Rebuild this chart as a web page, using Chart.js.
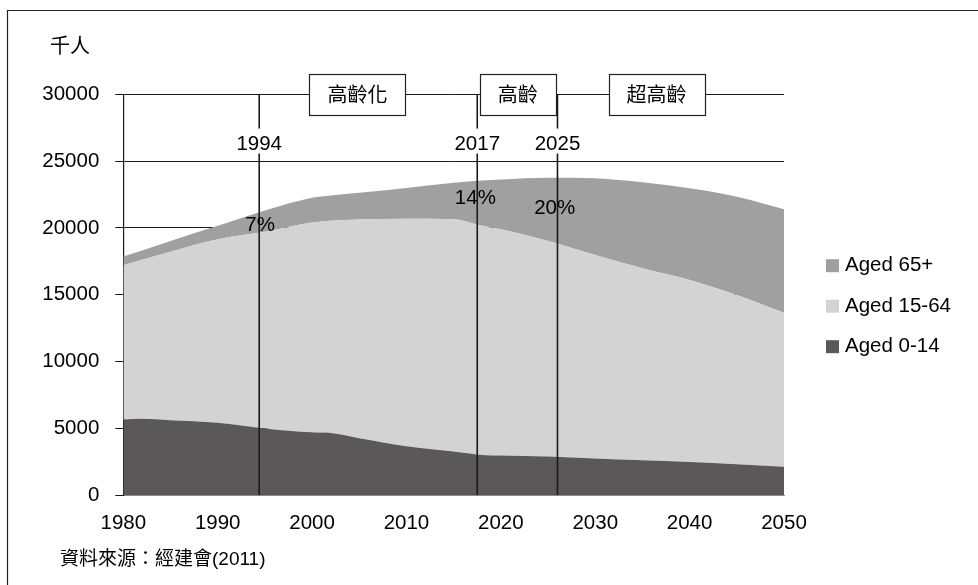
<!DOCTYPE html>
<html>
<head>
<meta charset="utf-8">
<script src="https://cdn.jsdelivr.net/npm/chart.js@4.4.1/dist/chart.umd.min.js"></script>
<style>
  html, body { margin: 0; padding: 0; background: #ffffff; }
  #wrap { position: relative; width: 978px; height: 585px; }
</style>
</head>
<body>
<div id="wrap"><canvas id="c"></canvas></div>
<script>
// ---- data ----
const years = [1980, 1982, 1985, 1990, 1995, 2000, 2002, 2005, 2010, 2015, 2018, 2020, 2025, 2030, 2035, 2040, 2045, 2050];
const aged0_14 = [5650, 5700, 5600, 5410, 4980, 4690, 4640, 4250, 3650, 3250, 3000, 2960, 2880, 2740, 2600, 2470, 2300, 2120];
const aged15_64 = [11550, 11920, 12620, 13740, 14720, 15710, 15900, 16370, 17030, 17390, 17150, 16930, 16140, 15230, 14370, 13630, 12670, 11530];
const aged65 = [650, 680, 800, 1000, 1600, 1850, 1890, 2000, 2300, 2740, 3400, 3740, 4740, 5740, 6440, 6860, 7360, 7740];
const seriesNames = ['Aged 0-14', 'Aged 15-64', 'Aged 65+'];
const xTickLabels = ['1980', '1990', '2000', '2010', '2020', '2030', '2040', '2050'];
const yTickLabels = ['0', '5000', '10000', '15000', '20000', '25000', '30000'];
const markerYears = [1994.4, 2017.5, 2026];
const markerLabels = ['1994', '2017', '2025'];
const pctLabels = ['7%', '14%', '20%'];
const pctX = [1994.5, 2017.3, 2025.7];
const pctY = [20200, 22230, 21480];
const phaseLabels = ['高齡化', '高齡', '超高齡'];
const phaseX = [2004.8, 2021.8, 2036.5];
const unitLabel = '千人';
const sourceLabel = '資料來源：經建會(2011)';

// ---- styles ----
const colors = ['#5a5858', '#d3d3d3', '#a0a0a0'];
const LATIN = '20.5px "Liberation Sans", Arial, sans-serif';
const CJK = '20px "Noto Sans CJK TC", "Noto Sans CJK SC", sans-serif';
const SRC = '19px "Liberation Sans", "Noto Sans CJK TC", sans-serif';

function pts(arr) { return years.map((y, i) => ({x: y, y: arr[i]})); }

const lineSets = markerYears.map((yr, i) => ({
  label: 'marker' + i,
  data: [{x: yr, y: 0}, {x: yr, y: 30000}],
  borderColor: '#1a1a1a',
  borderWidth: 1.6,
  pointRadius: 0,
  fill: false,
  stack: 'm' + i,
  order: 0,
  tension: 0
}));

const areaSets = [aged0_14, aged15_64, aged65].map((arr, i) => ({
  label: seriesNames[i],
  data: pts(arr),
  backgroundColor: colors[i],
  borderColor: colors[i],
  borderWidth: 0,
  pointRadius: 0,
  fill: i === 0 ? 'origin' : '-1',
  stack: 'pop',
  order: 1,
  cubicInterpolationMode: 'monotone'
}));

const annot = {
  id: 'annot',
  afterDatasetsDraw(chart) {
    const ctx = chart.ctx, xs = chart.scales.x, ys = chart.scales.y;
    ctx.save();
    // percent labels
    ctx.font = LATIN; ctx.fillStyle = '#000'; ctx.textAlign = 'center'; ctx.textBaseline = 'middle';
    pctLabels.forEach((t, i) => ctx.fillText(t, xs.getPixelForValue(pctX[i]), ys.getPixelForValue(pctY[i])));
    // year labels with white background
    markerLabels.forEach((t, i) => {
      const x = xs.getPixelForValue(markerYears[i]);
      const y = ys.getPixelForValue(26350);
      const w = ctx.measureText(t).width + 4;
      ctx.fillStyle = '#fff';
      ctx.fillRect(x - w / 2, y - 14.5, w, 25);
      ctx.fillStyle = '#000';
      ctx.fillText(t, x, y + 1);
    });
    // phase boxes
    ctx.font = CJK;
    phaseLabels.forEach((t, i) => {
      const x = xs.getPixelForValue(phaseX[i]);
      const y = ys.getPixelForValue(30000);
      const w = ctx.measureText(t).width + 36;
      const h = 41;
      const bx = Math.round(x - w / 2) + 0.5, by = Math.round(y - 20) + 0.5;
      ctx.fillStyle = '#fff';
      ctx.fillRect(bx, by, w, h);
      ctx.strokeStyle = '#222'; ctx.lineWidth = 1.2;
      ctx.strokeRect(bx, by, w, h);
      ctx.fillStyle = '#000';
      ctx.fillText(t, x, y + 0.5);
    });
    ctx.restore();
  },
  afterDraw(chart) {
    const ctx = chart.ctx;
    ctx.save();
    // outer frame (left and top edges)
    ctx.strokeStyle = '#222'; ctx.lineWidth = 1.2;
    ctx.beginPath();
    ctx.moveTo(7.5, 585); ctx.lineTo(7.5, 10.5); ctx.lineTo(978, 10.5);
    ctx.stroke();
    // unit
    ctx.fillStyle = '#000'; ctx.textBaseline = 'middle'; ctx.textAlign = 'left';
    ctx.font = CJK;
    ctx.fillText(unitLabel, 50, 45);
    // source
    ctx.font = SRC;
    ctx.fillText(sourceLabel, 60, 559.5);
    // legend (reverse order)
    ctx.font = LATIN;
    const rows = [2, 1, 0];
    rows.forEach((di, r) => {
      const cy = 265.7 + r * 40.5;
      ctx.fillStyle = colors[di];
      ctx.fillRect(826, cy - 6.5, 13, 13);
      ctx.fillStyle = '#000';
      ctx.fillText(seriesNames[di], 845, cy);
    });
    ctx.restore();
  }
};

new Chart(document.getElementById('c'), {
  type: 'line',
  data: { datasets: [...lineSets, ...areaSets] },
  options: {
    responsive: true,
    maintainAspectRatio: false,
    animation: false,
    layout: { padding: { left: 0, right: 194, top: 94.3, bottom: 50 } },
    plugins: { legend: { display: false }, tooltip: { enabled: false }, title: { display: false } },
    elements: { line: { borderJoinStyle: 'round' } },
    scales: {
      x: {
        type: 'linear',
        min: 1980, max: 2050,
        afterFit(s) { s.height = 40; },
        afterBuildTicks(s) { s.ticks = xTickLabels.map(v => ({value: Number(v)})); },
        ticks: {
          padding: 16,
          color: '#000',
          font: { family: '"Liberation Sans", Arial, sans-serif', size: 20.5 },
          maxRotation: 0,
          callback: (v) => String(v)
        },
        grid: { display: false, drawTicks: false },
        border: { display: true, color: '#8a8a8a', width: 1 }
      },
      y: {
        type: 'linear',
        stacked: true,
        min: 0, max: 30000,
        afterFit(s) { s.width = 123.3; },
        afterBuildTicks(s) { s.ticks = yTickLabels.map(v => ({value: Number(v)})); },
        ticks: {
          padding: 16,
          color: '#000',
          font: { family: '"Liberation Sans", Arial, sans-serif', size: 20.5 },
          callback: (v) => String(v)
        },
        grid: { color: '#1a1a1a', lineWidth: 1, drawTicks: true, tickLength: 8 },
        border: { display: true, color: '#1a1a1a', width: 1.2 }
      }
    }
  },
  plugins: [annot]
});
</script>
</body>
</html>
